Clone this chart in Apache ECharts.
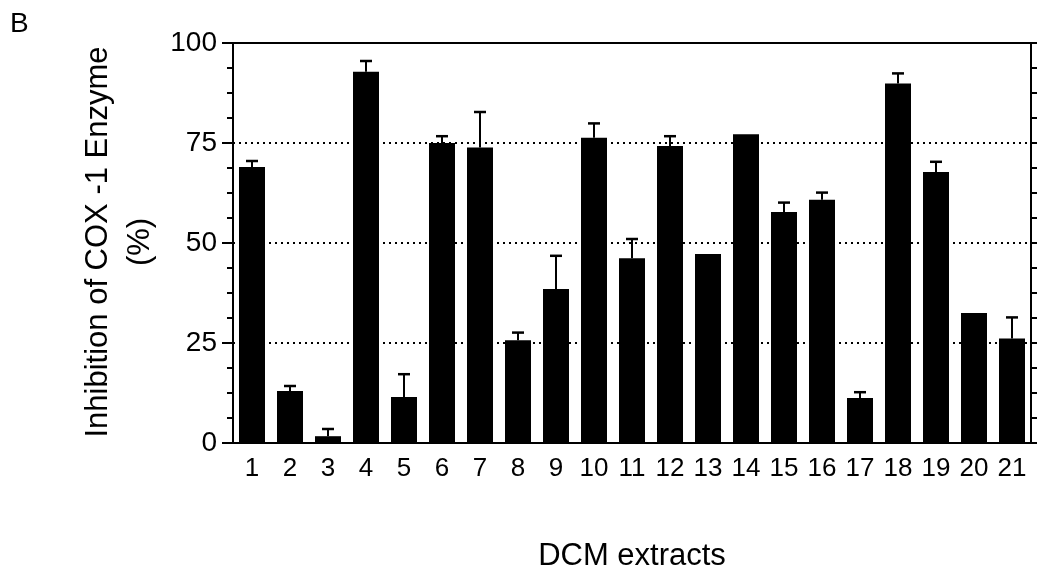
<!DOCTYPE html>
<html>
<head>
<meta charset="utf-8">
<script src="https://cdn.jsdelivr.net/npm/echarts@6/dist/echarts.min.js"></script>
<style>html,body{margin:0;padding:0;background:#fff}#c{width:1040px;height:585px}</style>
</head>
<body>
<div id="c"></div>
<script>
const categories = ['1','2','3','4','5','6','7','8','9','10','11','12','13','14','15','16','17','18','19','20','21'];
const inhibition = [69.0, 13.0, 1.7, 92.8, 11.5, 75.0, 73.9, 25.7, 38.5, 76.3, 46.2, 74.25, 47.25, 77.2, 57.75, 60.8, 11.25, 89.9, 67.75, 32.5, 26.1];
const errors = [1.5, 1.25, 1.8, 2.7, 5.7, 1.7, 8.85, 1.9, 8.3, 3.6, 4.8, 2.45, 0, 0.1, 2.35, 1.8, 1.45, 2.5, 2.55, 0, 5.3];
const yTicks = [0, 25, 50, 75, 100];
const yTitle = ['Inhibition of COX -1 Enzyme', '(%)'];
const xTitle = 'DCM extracts';
const panelLabel = 'B';

const FONT = '"Liberation Sans", Arial, sans-serif';
const chart = echarts.init(document.getElementById('c'), null, {renderer: 'canvas'});

const errData = inhibition.map((v, i) => [i, v, v + errors[i]]);

chart.setOption({
  animation: false,
  backgroundColor: '#fff',
  grid: {left: 233, right: 9, top: 43, bottom: 142},
  xAxis: [{
    type: 'category', data: categories, position: 'bottom',
    axisLine: {show: true, lineStyle: {color: '#000', width: 2}},
    axisTick: {show: false},
    axisLabel: {color: '#000', fontSize: 26, fontFamily: FONT, margin: 13, interval: 0}
  }, {
    type: 'category', data: categories, position: 'top',
    axisLine: {show: true, onZero: false, lineStyle: {color: '#000', width: 2}},
    axisTick: {show: false}, axisLabel: {show: false}
  }],
  yAxis: [{
    type: 'value', min: yTicks[0], max: yTicks[yTicks.length - 1], interval: 25, position: 'left',
    axisLine: {show: true, lineStyle: {color: '#000', width: 2}},
    axisTick: {show: true, length: 11, lineStyle: {color: '#000', width: 2}},
    minorTick: {show: true, splitNumber: 4, length: 6, lineStyle: {color: '#000', width: 2}},
    axisLabel: {color: '#000', fontSize: 28, fontFamily: FONT, margin: 16},
    splitLine: {show: true, lineStyle: {color: '#000', width: 2, type: [2, 4]}}
  }, {
    type: 'value', min: yTicks[0], max: yTicks[yTicks.length - 1], interval: 25, position: 'right',
    axisLine: {show: true, lineStyle: {color: '#000', width: 2}},
    axisTick: {show: true, length: 6, lineStyle: {color: '#000', width: 2}},
    minorTick: {show: true, splitNumber: 4, length: 6, lineStyle: {color: '#000', width: 2}},
    axisLabel: {show: false},
    splitLine: {show: false}
  }],
  series: [{
    type: 'bar', data: inhibition, barWidth: 26, itemStyle: {color: '#000'}, z: 2
  }, {
    type: 'custom', data: errData, z: 3,
    renderItem: function (params, api) {
      const x = api.coord([api.value(0), api.value(1)]);
      const top = api.coord([api.value(0), api.value(2)]);
      if (Math.abs(x[1] - top[1]) < 0.5) return null;
      const half = 6;
      return {
        type: 'group',
        children: [{
          type: 'line', shape: {x1: x[0], y1: x[1], x2: top[0], y2: top[1]},
          style: {stroke: '#000', lineWidth: 2}
        }, {
          type: 'line', shape: {x1: top[0] - half, y1: top[1], x2: top[0] + half, y2: top[1]},
          style: {stroke: '#000', lineWidth: 2.5}
        }]
      };
    }
  }],
  graphic: [{
    type: 'text', x: 10, y: 24,
    style: {text: panelLabel, fontSize: 28, fontFamily: FONT, fill: '#000', verticalAlign: 'middle'}
  }, {
    type: 'text', x: 98, y: 242, rotation: Math.PI / 2,
    style: {text: yTitle[0], fontSize: 31, fontFamily: FONT, fill: '#000', align: 'center', verticalAlign: 'middle'}
  }, {
    type: 'text', x: 140, y: 242, rotation: Math.PI / 2,
    style: {text: yTitle[1], fontSize: 31, fontFamily: FONT, fill: '#000', align: 'center', verticalAlign: 'middle'}
  }, {
    type: 'text', x: 632, y: 556,
    style: {text: xTitle, fontSize: 31, fontFamily: FONT, fill: '#000', align: 'center', verticalAlign: 'middle'}
  }]
});
</script>
</body>
</html>
